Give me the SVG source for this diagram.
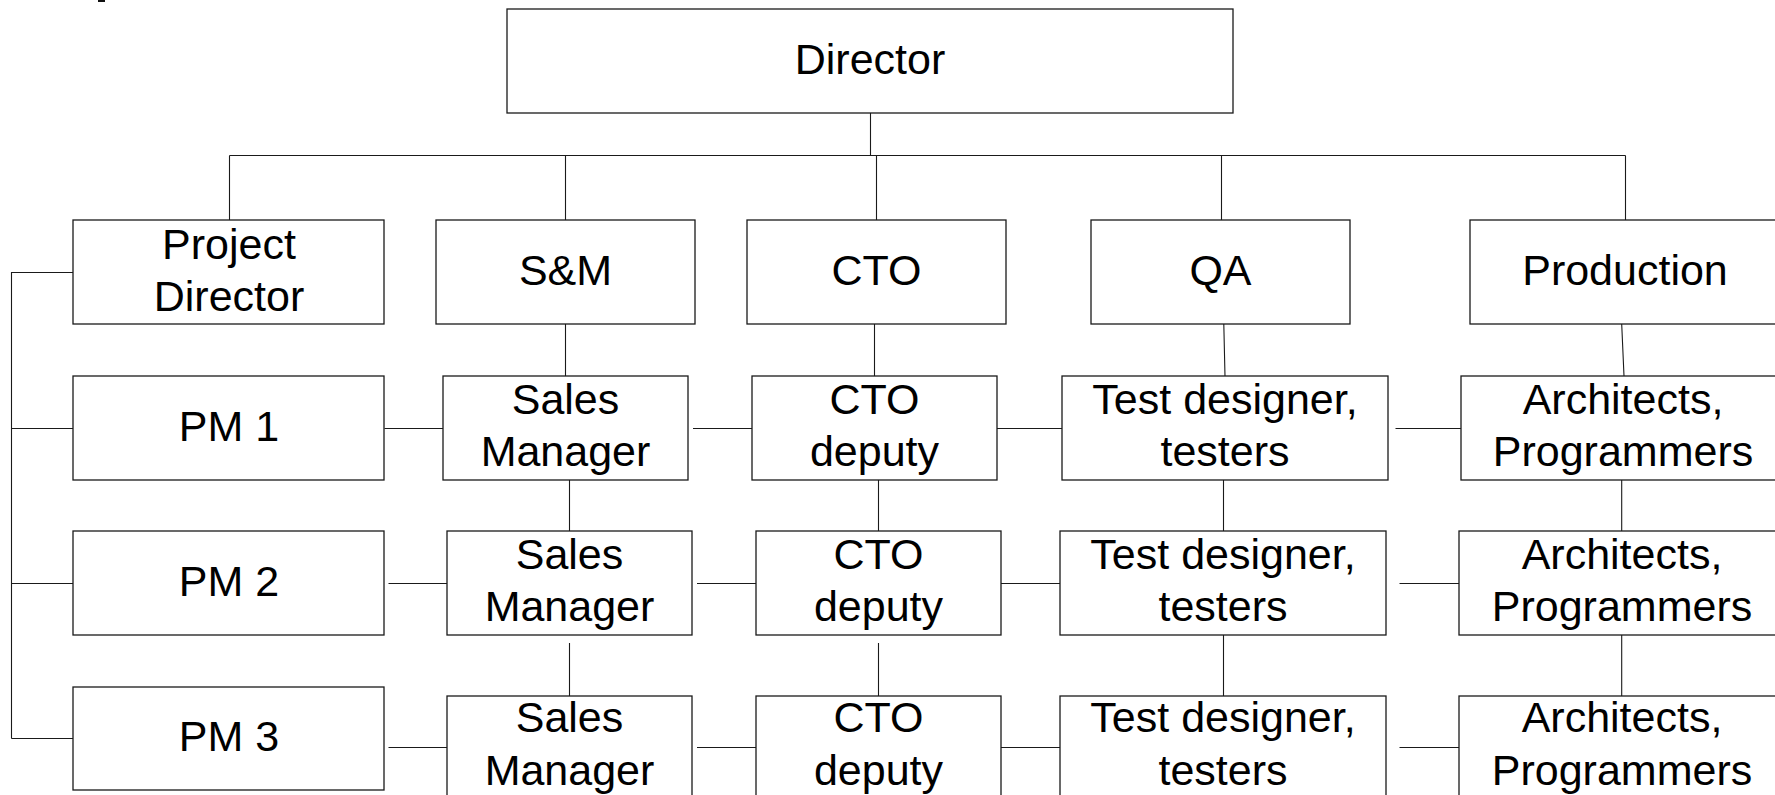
<svg xmlns="http://www.w3.org/2000/svg" width="1775" height="795" viewBox="0 0 1775 795">
<style>
.box{fill:#fff;stroke:#1a1a1a;stroke-width:1.3}
.t{font-family:"Liberation Sans",Arial,sans-serif;font-size:43px;fill:#000;text-anchor:middle}
.c{stroke:#1a1a1a;stroke-width:1.1;fill:none}
</style>
<rect width="1775" height="795" fill="#fff"/>
<rect x="98" y="0" width="7" height="2" fill="#111"/>
<g id="connectors">
<path class="c" d="M870.5 113V155.5M229.5 155.5H1625.5M229.5 155.5V220M565.5 155.5V220M876.5 155.5V220M1221.5 155.5V220M1625.5 155.5V220"/>
<path class="c" d="M11.5 272.5H73M11.5 272V738.5M11.5 428.5H73M11.5 583.5H73M11.5 738.5H73"/>
<path class="c" d="M384.5 428.5H443M388.5 583.5H447M388.5 747.5H447"/>
<path class="c" d="M693 428.5H752M697 583.5H756M697 747.5H756"/>
<path class="c" d="M997 428.5H1062M1001 583.5H1060M1001 747.5H1060"/>
<path class="c" d="M1395.5 428.5H1461M1399.5 583.5H1459M1399.5 747.5H1459"/>
<path class="c" d="M565.5 324V376M569.5 480V531M569.5 643V696"/>
<path class="c" d="M874.5 324V376M878.5 480V531M878.5 643V696"/>
<path class="c" d="M1223.8 324L1225 376M1223.5 480V531M1223.5 635V696"/>
<path class="c" d="M1621.7 324L1624 376M1621.7 480V531M1621.7 635V696"/>
</g>
<g id="director"><rect class="box" x="507" y="9" width="726" height="104"/><text class="t" x="870" y="74">Director</text></g>
<g id="project-director"><rect class="box" x="73" y="220" width="311" height="104"/><text class="t" x="229" y="259">Project</text><text class="t" x="229" y="311">Director</text></g>
<g id="sm"><rect class="box" x="436" y="220" width="259" height="104"/><text class="t" x="565.5" y="285">S&amp;M</text></g>
<g id="cto"><rect class="box" x="747" y="220" width="259" height="104"/><text class="t" x="876.5" y="285">CTO</text></g>
<g id="qa"><rect class="box" x="1091" y="220" width="259" height="104"/><text class="t" x="1220.5" y="285">QA</text></g>
<g id="production"><rect class="box" x="1470" y="220" width="330" height="104"/><text class="t" x="1625" y="285">Production</text></g>
<g id="pm1"><rect class="box" x="73" y="376" width="311" height="104"/><text class="t" x="229" y="441">PM 1</text></g>
<g id="pm2"><rect class="box" x="73" y="531" width="311" height="104"/><text class="t" x="229" y="596">PM 2</text></g>
<g id="pm3"><rect class="box" x="73" y="687" width="311" height="103"/><text class="t" x="229" y="751">PM 3</text></g>
<g id="sales1"><rect class="box" x="443" y="376" width="245" height="104"/><text class="t" x="565.5" y="414">Sales</text><text class="t" x="565.5" y="466">Manager</text></g>
<g id="sales2"><rect class="box" x="447" y="531" width="245" height="104"/><text class="t" x="569.5" y="569">Sales</text><text class="t" x="569.5" y="621">Manager</text></g>
<g id="sales3"><rect class="box" x="447" y="696" width="245" height="110"/><text class="t" x="569.5" y="732">Sales</text><text class="t" x="569.5" y="785">Manager</text></g>
<g id="ctodep1"><rect class="box" x="752" y="376" width="245" height="104"/><text class="t" x="874.5" y="414">CTO</text><text class="t" x="874.5" y="466">deputy</text></g>
<g id="ctodep2"><rect class="box" x="756" y="531" width="245" height="104"/><text class="t" x="878.5" y="569">CTO</text><text class="t" x="878.5" y="621">deputy</text></g>
<g id="ctodep3"><rect class="box" x="756" y="696" width="245" height="110"/><text class="t" x="878.5" y="732">CTO</text><text class="t" x="878.5" y="785">deputy</text></g>
<g id="test1"><rect class="box" x="1062" y="376" width="326" height="104"/><text class="t" x="1225" y="414">Test designer,</text><text class="t" x="1225" y="466">testers</text></g>
<g id="test2"><rect class="box" x="1060" y="531" width="326" height="104"/><text class="t" x="1223" y="569">Test designer,</text><text class="t" x="1223" y="621">testers</text></g>
<g id="test3"><rect class="box" x="1060" y="696" width="326" height="110"/><text class="t" x="1223" y="732">Test designer,</text><text class="t" x="1223" y="785">testers</text></g>
<g id="arch1"><rect class="box" x="1461" y="376" width="330" height="104"/><text class="t" x="1623" y="414">Architects,</text><text class="t" x="1623" y="466">Programmers</text></g>
<g id="arch2"><rect class="box" x="1459" y="531" width="330" height="104"/><text class="t" x="1622" y="569">Architects,</text><text class="t" x="1622" y="621">Programmers</text></g>
<g id="arch3"><rect class="box" x="1459" y="696" width="330" height="110"/><text class="t" x="1622" y="732">Architects,</text><text class="t" x="1622" y="785">Programmers</text></g>
</svg>
